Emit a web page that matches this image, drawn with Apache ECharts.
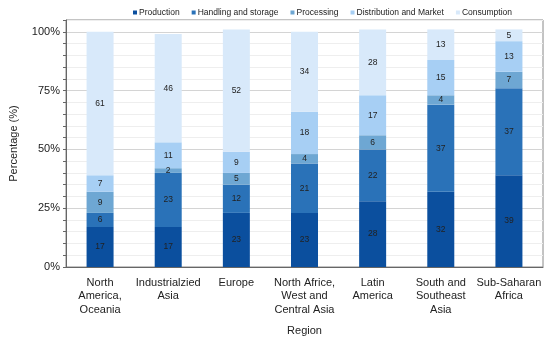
<!DOCTYPE html>
<html><head><meta charset="utf-8">
<script src="https://cdn.jsdelivr.net/npm/echarts@6/dist/echarts.min.js"></script>
<style>html,body{margin:0;padding:0;background:#fff}#c{width:550px;height:341px}</style>
</head><body><div id="c"></div>
<script>
const categories = ['North\nAmerica,\nOceania','Industrialzied\nAsia','Europe','North Africe,\nWest and\nCentral Asia','Latin\nAmerica','South and\nSoutheast\nAsia','Sub-Saharan\nAfrica'];
const production = [17,17,23,23,28,32,39];
const handling = [6,23,12,21,22,37,37];
const processing = [9,2,5,4,6,4,7];
const distribution = [7,11,9,18,17,15,13];
const consumption = [61,46,52,34,28,13,5];
const seriesNames = ['Production','Handling and storage','Processing','Distribution and Market','Consumption'];
const colors = ['#0b4f9e','#2a72b8','#6ea7d3','#a7cff4','#d8e9fa'];
const values = [production, handling, processing, distribution, consumption];

const chart = echarts.init(document.getElementById('c'));
const font = 'Liberation Sans, Arial, sans-serif';
chart.setOption({
  animation: false,
  textStyle: {fontFamily: font},
  legend: {
    top: 3, right: 33, itemWidth: 4, itemHeight: 4, itemGap: 12,
    icon: 'rect',
    textStyle: {fontSize: 8.5, color: '#222', padding: [0,0,0,-3]},
    data: seriesNames
  },
  grid: {left: 59, right: 7, top: 20, bottom: 73, show: true, borderColor: '#888', borderWidth: 1},
  xAxis: {
    type: 'category', data: categories,
    name: 'Region', nameLocation: 'middle', nameGap: 58,
    nameTextStyle: {fontSize: 11, color: '#222'},
    axisLine: {lineStyle: {color: '#666'}},
    axisTick: {show: false},
    axisLabel: {fontSize: 11, color: '#222', lineHeight: 13.5, interval: 0, margin: 9}
  },
  yAxis: {
    type: 'value', min: 0, max: 105, interval: 5,
    name: 'Percentage (%)', nameLocation: 'middle', nameGap: 47,
    nameTextStyle: {fontSize: 11, color: '#222'},
    axisLine: {show: true, lineStyle: {color: '#666'}},
    axisTick: {show: true, length: 3, inside: false, lineStyle: {color: '#666'}},
    axisLabel: {fontSize: 11, color: '#222', margin: 6,
      formatter: v => (v % 25 === 0 && v <= 100) ? v + '%' : ''},
    splitLine: {show: true, lineStyle: {color: ['#d4d4d4','#eeeeee','#eeeeee','#eeeeee','#eeeeee'], width: 1}}
  },
  series: seriesNames.map((n, i) => ({
    name: n, type: 'bar', stack: 'total', barWidth: 27,
    itemStyle: {color: colors[i]},
    label: {show: true, position: 'inside', fontSize: 8.5, color: '#222'},
    data: values[i]
  }))
});
</script></body></html>
